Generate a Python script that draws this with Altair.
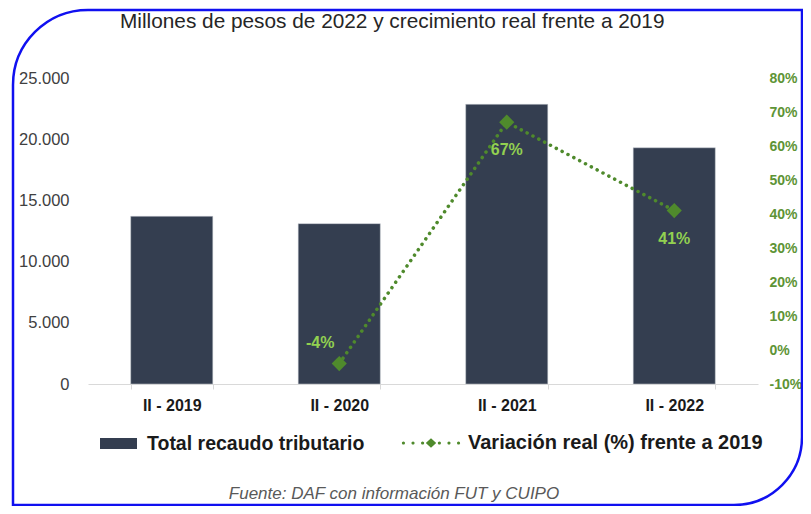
import altair as alt
import pandas as pd

periodos = ["II - 2019", "II - 2020", "II - 2021", "II - 2022"]
recaudo = [13700, 13100, 22850, 19300]
variacion = [None, -4, 67, 41]
etiquetas = ["", "-4%", "67%", "41%"]
serie_barras = "Total recaudo tributario"
serie_linea = "Variación real (%) frente a 2019"
titulo = "Millones de pesos de 2022 y crecimiento real frente a 2019"
fuente = "Fuente: DAF con información FUT y CUIPO"

df = pd.DataFrame({
    "periodo": periodos,
    "recaudo": recaudo,
    "variacion": variacion,
    "etiqueta": etiquetas,
    "s1": [serie_barras] * 4,
    "s2": [serie_linea] * 4,
})

BAR = "#343e50"
GREEN = "#4f8a2c"
LGREEN = "#92d050"
FONT = "Liberation Sans"

xenc = alt.X("periodo:N", sort=periodos, title=None,
             scale=alt.Scale(paddingInner=0.51, paddingOuter=0.255),
             axis=alt.Axis(labelAngle=0, labelFontWeight="bold", labelFontSize=16,
                           labelColor="#1a1a1a", labelFont=FONT, domainColor="#d9d9d9",
                           tickColor="#d9d9d9", tickBand="extent", tickSize=5,
                           labelPadding=8, grid=False))

base = alt.Chart(df)

bars = base.mark_bar(stroke="#c9ccd2", strokeWidth=0.5).encode(
    x=xenc,
    y=alt.Y("recaudo:Q", title=None,
            scale=alt.Scale(domain=[0, 25000]),
            axis=alt.Axis(values=[0, 5000, 10000, 15000, 20000, 25000],
                          labelExpr="replace(format(datum.value, ','), ',', '.')",
                          ticks=False, domain=False, grid=False, labelFontSize=16.5,
                          labelColor="#404040", labelFont=FONT, labelPadding=19)),
    color=alt.Color("s1:N", scale=alt.Scale(domain=[serie_barras], range=[BAR]),
                    legend=alt.Legend(title=None, orient="none", legendX=12, legendY=347,
                                      symbolType="M-1,-0.3H1V0.3H-1Z", symbolSize=1369,
                                      symbolStrokeWidth=0, labelFontSize=19.5,
                                      labelFontWeight="bold", labelColor="#1a1a1a",
                                      labelFont=FONT, labelOffset=10, labelLimit=500)),
)

r = 0.055
def dot(cx):
    return f"M{cx - r:.3f},0a{r},{r} 0 1,0 {2*r},0a{r},{r} 0 1,0 {-2*r},0"
legend_path = "".join(dot(c) for c in [-0.95, -0.62, -0.29, 0.29, 0.62, 0.95]) + \
    "M-0.18,0L0,-0.16L0.18,0L0,0.16Z"

right_axis = alt.Axis(orient="right", values=list(range(-10, 90, 10)),
                      labelExpr="datum.value + '%'", ticks=False, domain=False,
                      grid=False, labelFontSize=14, labelFontWeight="bold",
                      labelColor="#5e9436", labelFont=FONT, labelPadding=11,
                      labelOverlap=False, labelBound=False, labelFlush=False)
right_scale = alt.Scale(domain=[-10, 80])
yright = alt.Y("variacion:Q", title=None, scale=right_scale, axis=right_axis)
xcat = alt.X("periodo:N", sort=periodos)

line = base.mark_line(strokeDash=[0.1, 6.5], strokeCap="round", strokeWidth=3.5).encode(
    x=xcat,
    y=yright,
    stroke=alt.Stroke("s2:N", scale=alt.Scale(domain=[serie_linea], range=[GREEN]),
                      legend=alt.Legend(title=None, orient="none", legendX=314, legendY=336,
                                        symbolType=legend_path, symbolSize=3364,
                                        symbolStrokeWidth=0, symbolFillColor=GREEN,
                                        labelFontSize=20, labelFontWeight="bold",
                                        labelColor="#1a1a1a", labelFont=FONT,
                                        labelOffset=8, labelLimit=500)),
)

points = base.mark_point(shape="diamond", filled=True, size=230, color=GREEN, opacity=1).encode(
    x=xcat, y=yright)

lab_neg = base.transform_filter("datum.variacion < 0").mark_text(
    dx=-19, dy=-21, fontSize=16, fontWeight="bold", color=LGREEN, font=FONT).encode(
    x=xcat, y=yright, text="etiqueta:N")

lab_pos = base.transform_filter("datum.variacion > 0").mark_text(
    dy=28, fontSize=16, fontWeight="bold", color=LGREEN, font=FONT).encode(
    x=xcat, y=yright, text="etiqueta:N")

deco = pd.DataFrame({"t": [fuente], "titulo": [titulo]})
foot = alt.Chart(deco).mark_text(fontSize=17, fontStyle="italic", color="#595959",
                                 font=FONT).encode(
    text="t:N", x=alt.value(306), y=alt.value(416))

title_mark = alt.Chart(deco).mark_text(fontSize=20.8, color="#262626", font=FONT,
                                       align="left", baseline="middle").encode(
    text="titulo:N", x=alt.value(32), y=alt.value(-56))

frame = alt.Chart(deco).mark_rect(fillOpacity=0, fill="white", stroke="#1010f0",
                                  strokeWidth=2.5, cornerRadiusTopLeft=75,
                                  cornerRadiusBottomRight=68).encode(
    x=alt.value(-75), x2=alt.value(714), y=alt.value(-68), y2=alt.value(427))

left = alt.layer(bars)
right = alt.layer(line, points, lab_neg, lab_pos)

chart = alt.layer(frame, title_mark, left, right, foot).resolve_scale(y="independent").properties(
    width=670, height=306,
    autosize=alt.AutoSizeParams(type="none"),
    padding={"left": 80, "top": 70, "right": 45, "bottom": 122},
).configure_view(stroke=None).configure_axis(labelOverlap=False)

chart.save("out.html", embed_options={"renderer": "svg", "actions": False})
